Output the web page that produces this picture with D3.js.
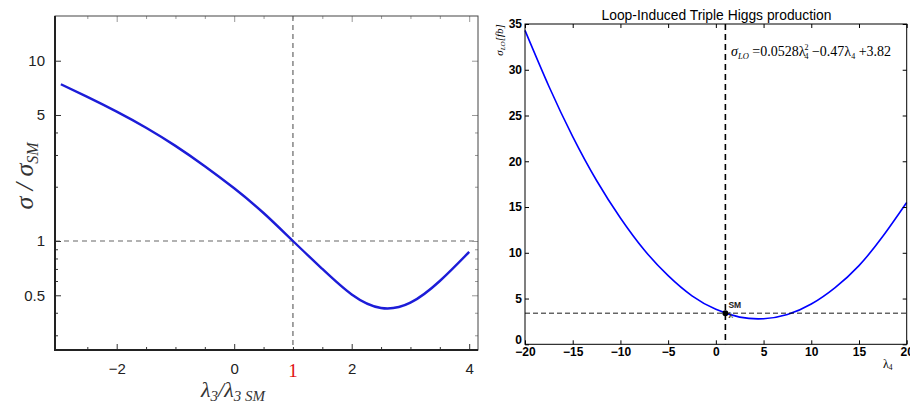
<!DOCTYPE html>
<html>
<head>
<meta charset="utf-8">
<script src="https://cdn.jsdelivr.net/npm/d3@7"></script>
<style>
body { margin:0; background:#fff; }
svg { display:block; }
</style>
</head>
<body>
<svg id="chart" width="910" height="404"></svg>
<script>
// left panel data (sigma/sigma_SM vs lambda3/lambda3_SM)
var lam3 = [-2.95, -2.5, -2, -1.5, -1, -0.5, 0, 0.5, 1, 1.5, 2, 2.5, 3, 3.5, 4];
var ratio = [7.4, 6.3, 5.22, 4.25, 3.37, 2.6, 1.96, 1.43, 1.0, 0.70, 0.505, 0.425, 0.455, 0.60, 0.87];
var leftYTicks = [0.5, 1, 5, 10];
var leftYMinor = [0.3, 0.4, 0.6, 0.7, 0.8, 0.9, 2, 3, 4];
var leftXTicks = [-2, 0, 2, 4];
var leftXMinor = [-2.5, -1.5, -1, -0.5, 0.5, 1.5, 2.5, 3, 3.5];

// right panel data (sigma_LO [fb] vs lambda4)
var lam4 = [-20, -17.5, -15, -12.5, -10, -7.5, -5, -2.5, 0, 2.5, 5, 7.5, 10, 12.5, 15, 17.5, 20];
var sigLO = [34.3, 28.2, 22.7, 17.9, 13.8, 10.3, 7.5, 5.3, 3.82, 2.97, 2.79, 3.25, 4.4, 6.2, 8.6, 11.8, 15.5];
var rightTicksX = [-20, -15, -10, -5, 0, 5, 10, 15, 20];
var rightTicksY = [0, 5, 10, 15, 20, 25, 30, 35];
var smPoint = {x: 1, y: 3.4};

var svg = d3.select("#chart");

// ---------------- left panel ----------------
var xL = d3.scaleLinear().domain([-3.05, 4.15]).range([55, 478]);
var yL = d3.scaleLog().domain([0.2486, 17.7]).range([350, 16]);

var gL = svg.append("g");

// dashed reference lines
gL.append("line")
  .attr("x1", xL(1)).attr("x2", xL(1))
  .attr("y1", yL.range()[1]).attr("y2", yL.range()[0])
  .attr("stroke", "#666").attr("stroke-width", 1.2)
  .attr("stroke-dasharray", "5,4");
gL.append("line")
  .attr("x1", xL.range()[0]).attr("x2", xL.range()[1])
  .attr("y1", yL(1)).attr("y2", yL(1))
  .attr("stroke", "#666").attr("stroke-width", 1.2)
  .attr("stroke-dasharray", "5,4");

var lineL = d3.line()
  .x(function(d, i) { return xL(lam3[i]); })
  .y(function(d) { return yL(d); })
  .curve(d3.curveNatural);
gL.append("path")
  .datum(ratio)
  .attr("d", lineL)
  .attr("fill", "none")
  .attr("stroke", "#1c1cd8")
  .attr("stroke-width", 2.4);

function styleAxis(g, col) {
  g.select(".domain").remove();
  g.selectAll("line").attr("stroke", col || "#333");
}

// left axis ticks
var axL = gL.append("g").attr("transform", "translate(55,0)")
  .call(d3.axisLeft(yL).tickValues(leftYTicks).tickSize(-6).tickPadding(10)
    .tickFormat(function(d) { return d; }));
styleAxis(axL);
axL.selectAll("text").attr("font-family", "Liberation Sans, Arial, sans-serif")
  .attr("font-size", 15).attr("fill", "#222");
var axLm = gL.append("g").attr("transform", "translate(55,0)")
  .call(d3.axisLeft(yL).tickValues(leftYMinor).tickSize(-3).tickFormat(""));
styleAxis(axLm);
// right side mirrored
var axLr = gL.append("g").attr("transform", "translate(478,0)")
  .call(d3.axisRight(yL).tickValues(leftYTicks).tickSize(-6).tickFormat(""));
styleAxis(axLr, "#999");
var axLrm = gL.append("g").attr("transform", "translate(478,0)")
  .call(d3.axisRight(yL).tickValues(leftYMinor).tickSize(-3).tickFormat(""));
styleAxis(axLrm, "#999");

// bottom
var axB = gL.append("g").attr("transform", "translate(0,350)")
  .call(d3.axisBottom(xL).tickValues(leftXTicks).tickSize(-6).tickPadding(13)
    .tickFormat(function(d) { return d < 0 ? "\u2212" + Math.abs(d) : d; }));
styleAxis(axB);
axB.selectAll("text").attr("font-family", "Liberation Sans, Arial, sans-serif")
  .attr("font-size", 15).attr("fill", "#222");
var axBm = gL.append("g").attr("transform", "translate(0,350)")
  .call(d3.axisBottom(xL).tickValues(leftXMinor.concat([1])).tickSize(-3).tickFormat(""));
styleAxis(axBm);
var axT = gL.append("g").attr("transform", "translate(0,16)")
  .call(d3.axisTop(xL).tickValues(leftXTicks).tickSize(-6).tickFormat(""));
styleAxis(axT, "#999");
var axTm = gL.append("g").attr("transform", "translate(0,16)")
  .call(d3.axisTop(xL).tickValues(leftXMinor.concat([1])).tickSize(-3).tickFormat(""));
styleAxis(axTm, "#999");

// red "1" label
gL.append("text")
  .attr("x", xL(1)).attr("y", 377)
  .attr("text-anchor", "middle")
  .attr("font-family", "Liberation Serif, Times New Roman, serif")
  .attr("font-size", 19).attr("fill", "#e01010")
  .text("1");

// frame
gL.append("rect")
  .attr("x", 55).attr("y", 16).attr("width", 423).attr("height", 334)
  .attr("fill", "none").attr("stroke", "#444").attr("stroke-width", 1);
gL.append("line").attr("x1", 55).attr("x2", 55).attr("y1", 16).attr("y2", 351)
  .attr("stroke", "#222").attr("stroke-width", 2);
gL.append("line").attr("x1", 54).attr("x2", 478).attr("y1", 350).attr("y2", 350)
  .attr("stroke", "#222").attr("stroke-width", 2);

// axis titles
var ylab = gL.append("text")
  .attr("transform", "translate(33,176) rotate(-90)")
  .attr("text-anchor", "middle")
  .attr("font-family", "Liberation Serif, Times New Roman, serif")
  .attr("font-style", "italic").attr("fill", "#333");
ylab.append("tspan").attr("font-size", 26).text("\u03c3 / \u03c3");
ylab.append("tspan").attr("font-size", 16).attr("dy", 5).text("SM");

var xlab = gL.append("text")
  .attr("x", 233).attr("y", 397)
  .attr("text-anchor", "middle")
  .attr("font-family", "Liberation Serif, Times New Roman, serif")
  .attr("font-style", "italic").attr("fill", "#333");
xlab.append("tspan").attr("font-size", 22).text("\u03bb");
xlab.append("tspan").attr("font-size", 15).attr("dy", 4).text("3");
xlab.append("tspan").attr("font-size", 22).attr("dy", -4).text("/\u03bb");
xlab.append("tspan").attr("font-size", 15).attr("dy", 4).text("3 SM");

// ---------------- right panel ----------------
var xR = d3.scaleLinear().domain([-20, 20]).range([525, 906.7]);
var yR = d3.scaleLinear().domain([0, 35]).range([344.3, 24]);
var gR = svg.append("g");

gR.append("text")
  .attr("x", 716.5).attr("y", 20)
  .attr("text-anchor", "middle")
  .attr("font-family", "Liberation Sans, Arial, sans-serif")
  .attr("font-size", 14.5).attr("fill", "#000")
  .attr("textLength", 230).attr("lengthAdjust", "spacingAndGlyphs")
  .text("Loop-Induced Triple Higgs production");

var lineR = d3.line()
  .x(function(d, i) { return xR(lam4[i]); })
  .y(function(d) { return yR(d); })
  .curve(d3.curveNatural);
gR.append("path")
  .datum(sigLO)
  .attr("d", lineR)
  .attr("fill", "none")
  .attr("stroke", "#0000ff")
  .attr("stroke-width", 1.6);

// dashed lines through SM point
gR.append("line")
  .attr("x1", xR(smPoint.x)).attr("x2", xR(smPoint.x))
  .attr("y1", yR(35)).attr("y2", yR(0))
  .attr("stroke", "#000").attr("stroke-width", 1.6)
  .attr("stroke-dasharray", "6,4");
gR.append("line")
  .attr("x1", xR(-20)).attr("x2", xR(20))
  .attr("y1", yR(smPoint.y)).attr("y2", yR(smPoint.y))
  .attr("stroke", "#000").attr("stroke-width", 0.9)
  .attr("stroke-dasharray", "5,3");

gR.append("circle")
  .attr("cx", xR(smPoint.x)).attr("cy", yR(smPoint.y)).attr("r", 3)
  .attr("fill", "#000");
gR.append("text")
  .attr("x", xR(smPoint.x) + 3).attr("y", yR(smPoint.y) - 5)
  .attr("font-family", "Liberation Sans, Arial, sans-serif")
  .attr("font-size", 8.5).attr("font-weight", "bold").attr("fill", "#222")
  .text("SM");
gR.append("text")
  .attr("x", xR(smPoint.x) + 3).attr("y", yR(smPoint.y) + 5)
  .attr("font-family", "Liberation Serif, serif")
  .attr("font-size", 9).attr("font-weight", "bold").attr("fill", "#333")
  .text("\u03bb");

// ticks all four sides
function rAxis(ax, tr, vals, fmt) {
  var g = gR.append("g").attr("transform", tr)
    .call(ax.tickValues(vals).tickSize(-4).tickPadding(3).tickFormat(fmt));
  g.select(".domain").remove();
  g.selectAll("line").attr("stroke", "#000");
  g.selectAll("text").attr("font-family", "Liberation Sans, Arial, sans-serif")
    .attr("font-size", 12).attr("font-weight", "bold").attr("fill", "#000");
  return g;
}
var fmtR = function(d) { return d < 0 ? "\u2212" + Math.abs(d) : d; };
rAxis(d3.axisBottom(xR), "translate(0,344.3)", rightTicksX, fmtR);
rAxis(d3.axisTop(xR), "translate(0,24)", rightTicksX, "");
var yAx = rAxis(d3.axisLeft(yR), "translate(525,0)", rightTicksY, fmtR);
yAx.selectAll("text").attr("dy", function(d) { return d === 0 ? "-0.1em" : "0.32em"; });
rAxis(d3.axisRight(yR), "translate(906.7,0)", rightTicksY, "");

gR.append("rect")
  .attr("x", 525).attr("y", 24).attr("width", 381.7).attr("height", 320.3)
  .attr("fill", "none").attr("stroke", "#000").attr("stroke-width", 1);

// formula
var f = gR.append("text")
  .attr("x", 731).attr("y", 56)
  .attr("font-family", "Liberation Serif, Times New Roman, serif")
  .attr("font-size", 14).attr("fill", "#000");
f.append("tspan").attr("font-style", "italic").text("\u03c3");
f.append("tspan").attr("font-style", "italic").attr("font-size", 8.5).attr("dy", 3).text("LO");
f.append("tspan").attr("dy", -3).text(" =0.0528\u03bb");
f.append("tspan").attr("font-size", 8).attr("dy", 3).attr("dx", -1).text("4");
f.append("tspan").attr("font-size", 8).attr("dy", -9).attr("dx", -4).text("2");
f.append("tspan").attr("dy", 6).text(" \u22120.47\u03bb");
f.append("tspan").attr("font-size", 8).attr("dy", 3).text("4");
f.append("tspan").attr("dy", -3).text(" +3.82");

// axis labels
var yr = gR.append("text")
  .attr("transform", "translate(503,40) rotate(-90)")
  .attr("text-anchor", "middle")
  .attr("font-family", "Liberation Serif, Times New Roman, serif")
  .attr("font-size", 11).attr("fill", "#000");
yr.append("tspan").attr("font-style", "italic").text("\u03c3");
yr.append("tspan").attr("font-style", "italic").attr("font-size", 7).attr("dy", 2).text("LO");
yr.append("tspan").attr("dy", -2).attr("font-style", "italic").text("[fb]");

var xr = gR.append("text")
  .attr("x", 883).attr("y", 368)
  .attr("font-family", "Liberation Serif, Times New Roman, serif")
  .attr("font-size", 12).attr("fill", "#000");
xr.append("tspan").text("\u03bb");
xr.append("tspan").attr("font-size", 7.5).attr("dy", 2).text("4");
</script>
</body>
</html>
